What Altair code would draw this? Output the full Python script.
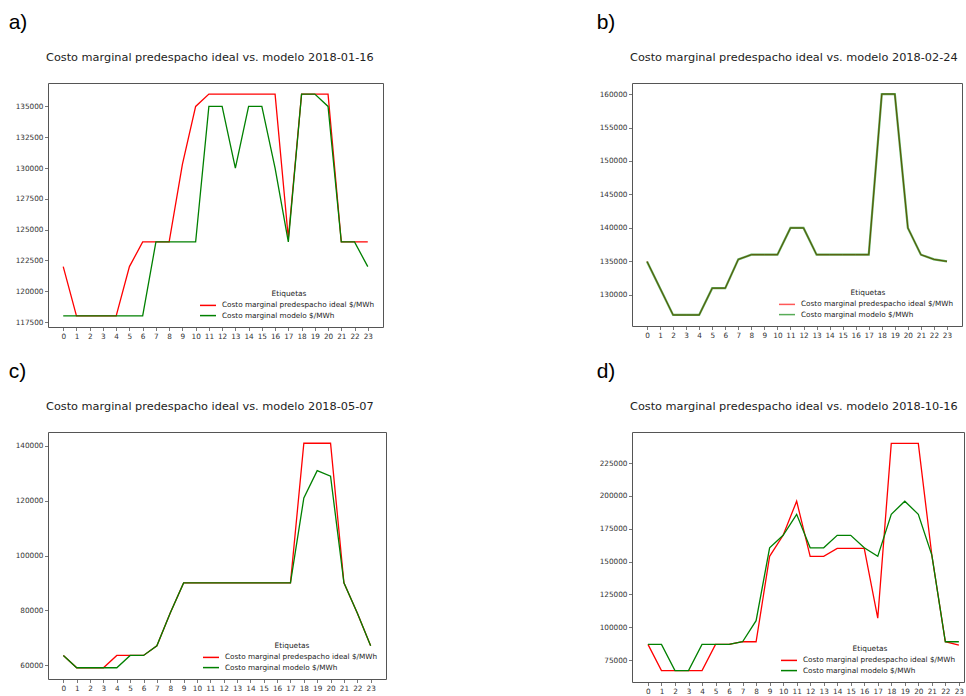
import altair as alt
import pandas as pd

hours = list(range(24))
SERIES = ["Costo marginal predespacho ideal $/MWh", "Costo marginal modelo $/MWh"]
COLORS = ["#ff0000", "#008000"]

labels = ["a)", "b)", "c)", "d)"]
dates = ["2018-01-16", "2018-02-24", "2018-05-07", "2018-10-16"]

a_ideal = [122000, 118000, 118000, 118000, 118000, 122000, 124000, 124000, 124000, 130300, 135000, 136000,
           136000, 136000, 136000, 136000, 136000, 124300, 136000, 136000, 136000, 124000, 124000, 124000]
a_model = [118000, 118000, 118000, 118000, 118000, 118000, 118000, 124000, 124000, 124000, 124000, 135000,
           135000, 130000, 135000, 135000, 130000, 124000, 136000, 136000, 135000, 124000, 124000, 122000]
b_ideal = [135000, 131000, 127000, 127000, 127000, 131000, 131000, 135300, 136000, 136000, 136000, 140000,
           140000, 136000, 136000, 136000, 136000, 136000, 160000, 160000, 140000, 136000, 135300, 135000]
b_model = [135000, 131000, 127000, 127000, 127000, 131000, 131000, 135300, 136000, 136000, 136000, 140000,
           140000, 136000, 136000, 136000, 136000, 136000, 160000, 160000, 140000, 136000, 135300, 135000]
c_ideal = [63500, 59000, 59000, 59000, 63500, 63500, 63500, 67000, 79000, 90000, 90000, 90000,
           90000, 90000, 90000, 90000, 90000, 90000, 141000, 141000, 141000, 90000, 79000, 67000]
c_model = [63500, 59000, 59000, 59000, 59000, 63500, 63500, 67000, 79000, 90000, 90000, 90000,
           90000, 90000, 90000, 90000, 90000, 90000, 121000, 131000, 129000, 90000, 79000, 67000]
d_ideal = [87000, 67000, 67000, 67000, 67000, 87000, 87000, 89000, 89000, 154000, 170000, 196000,
           154000, 154000, 160000, 160000, 160000, 107000, 240000, 240000, 240000, 155000, 89000, 86500]
d_model = [87000, 87000, 67000, 67000, 87000, 87000, 87000, 89000, 105000, 160500, 170000, 186000,
           160500, 160500, 170000, 170000, 160500, 154000, 186000, 196000, 186000, 155000, 89000, 89000]

a_yticks = [117500, 120000, 122500, 125000, 127500, 130000, 132500, 135000]
b_yticks = [130000, 135000, 140000, 145000, 150000, 155000, 160000]
c_yticks = [60000, 80000, 100000, 120000, 140000]
d_yticks = [75000, 100000, 125000, 150000, 175000, 200000, 225000]


def panel(i, ideal, model, yticks, ydom, w, h, xdom, red_w, green_op, green_w, label_dx):
    df = pd.DataFrame({
        "hora": hours + hours,
        "valor": ideal + model,
        "serie": [SERIES[0]] * 24 + [SERIES[1]] * 24,
    })
    x = alt.X("hora:Q", title=None,
              scale=alt.Scale(domain=xdom, nice=False, zero=False),
              axis=alt.Axis(values=hours, format="d", labelAngle=0,
                            labelFlush=False, labelOverlap=False))
    y = alt.Y("valor:Q", title=None,
              scale=alt.Scale(domain=ydom, nice=False, zero=False),
              axis=alt.Axis(values=yticks, format="d", labelFlush=False,
                            labelOverlap=False))
    color = alt.Color("serie:N",
                      scale=alt.Scale(domain=SERIES, range=COLORS),
                      legend=alt.Legend(title="Etiquetas", orient="bottom-right",
                                        titleAnchor="middle", symbolType="M-2,0H2",
                                        symbolSize=64, symbolStrokeWidth=1.5,
                                        labelLimit=400, offset=8, padding=0,
                                        rowPadding=1.2, titlePadding=3, labelOffset=9))
    base = alt.Chart(df)
    red = base.transform_filter(
        alt.FieldEqualPredicate(field="serie", equal=SERIES[0])
    ).mark_line(strokeWidth=red_w).encode(x=x, y=y, color=color)
    green = base.transform_filter(
        alt.FieldEqualPredicate(field="serie", equal=SERIES[1])
    ).mark_line(strokeWidth=green_w, opacity=green_op).encode(x=x, y=y, color=color)
    inner = alt.layer(red, green).properties(
        width=w, height=h,
        title=alt.TitleParams("Costo marginal predespacho ideal vs. modelo " + dates[i],
                              anchor="start", frame="group", dx=-2, offset=20,
                              fontSize=11.3, font="DejaVu Sans", fontWeight="normal",
                              color="#222"),
    )
    outer = alt.vconcat(
        inner,
        title=alt.TitleParams(labels[i], anchor="start", dx=label_dx, offset=18,
                              fontSize=21, font="Liberation Sans", fontWeight="normal",
                              color="#000"),
    ).resolve_scale(color="independent").resolve_legend(color="independent")
    return outer


pa = panel(0, a_ideal, a_model, a_yticks, [117100, 136900], 335, 244, [-1.15, 24.15], 1.3, 1.0, 1.3, -6)
pb = panel(1, b_ideal, b_model, b_yticks, [125350, 161650], 330, 243, [-1.15, 24.15], 1.0, 0.65, 2.2, -2)
pc = panel(2, c_ideal, c_model, c_yticks, [54900, 145100], 338, 247, [-1.15, 24.15], 1.3, 1.0, 1.3, -6)
pd_ = panel(3, d_ideal, d_model, d_yticks, [58350, 248650], 332, 250, [-1.18, 23.38], 1.3, 1.0, 1.3, -2)

chart = alt.concat(
    pa, pb, pc, pd_, columns=2, spacing={"row": 21, "column": 209}, align="each"
).resolve_scale(
    color="independent", x="independent", y="independent"
).resolve_legend(color="independent").properties(
    padding={"left": 8, "top": 12, "right": 0, "bottom": 0},
    background="white",
).configure_view(
    stroke="#555", strokeWidth=1
).configure_axis(
    domain=False, grid=False, ticks=True, tickColor="#555", tickSize=3.5,
    tickWidth=0.8, labelFont="DejaVu Sans", labelFontSize=7.3, labelColor="#333",
    labelPadding=1.5,
).configure_legend(
    labelFont="DejaVu Sans", labelFontSize=7.3, labelColor="#222",
    titleFont="DejaVu Sans", titleFontSize=7.4, titleFontWeight="normal",
    titleColor="#222",
)

chart.save("out.html", embed_options={"renderer": "svg", "actions": False})
